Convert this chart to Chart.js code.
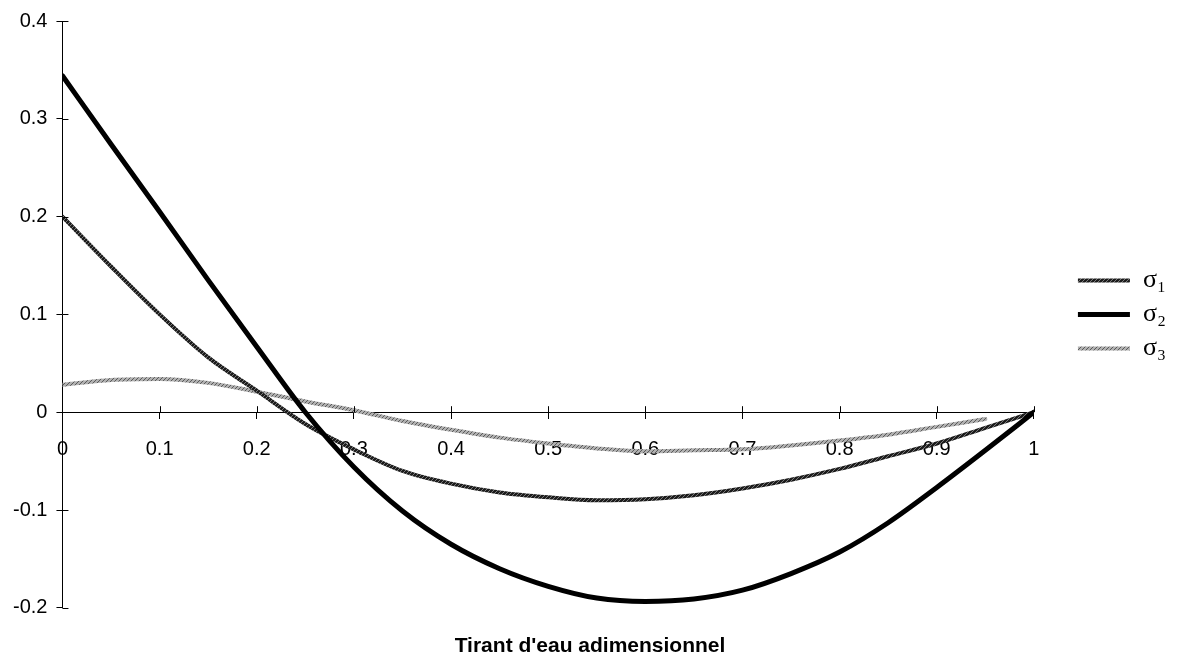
<!DOCTYPE html>
<html>
<head>
<meta charset="utf-8">
<script src="https://cdn.jsdelivr.net/npm/chart.js@4/dist/chart.umd.min.js"></script>
<style>
  html, body { margin: 0; padding: 0; background: #fff; }
  #wrap { width: 1181px; height: 663px; position: relative; }
</style>
</head>
<body>
<div id="wrap"><canvas id="c" width="1181" height="663"></canvas></div>
<script>
// Tirant d'eau adimensionnel (abscisse)
const xValues = [0, 0.05, 0.1, 0.15, 0.2, 0.25, 0.3, 0.35, 0.4, 0.45, 0.5,
                 0.55, 0.6, 0.65, 0.7, 0.75, 0.8, 0.85, 0.9, 0.95, 1];

// Contraintes adimensionnelles
const sigma1 = [0.200, 0.149, 0.100, 0.056, 0.022, -0.012, -0.038, -0.060, -0.073, -0.082, -0.087,
                -0.090, -0.089, -0.085, -0.078, -0.069, -0.058, -0.045, -0.032, -0.016, 0.000];
const sigma2 = [0.344, 0.274, 0.205, 0.135, 0.067, 0.000, -0.056, -0.101, -0.135, -0.160, -0.178,
                -0.190, -0.1935, -0.191, -0.182, -0.165, -0.143, -0.113, -0.077, -0.039, 0.000];
const sigma3 = [0.028, 0.033, 0.034, 0.030, 0.021, 0.011, 0.002, -0.009, -0.018, -0.026, -0.032,
                -0.037, -0.040, -0.039, -0.038, -0.034, -0.029, -0.023, -0.015, -0.007, null];

const seriesNames = ['σ\u2081', 'σ\u2082', 'σ\u2083'];

// Graduations
const xTickValues = [0, 0.1, 0.2, 0.3, 0.4, 0.5, 0.6, 0.7, 0.8, 0.9, 1];
const xTickLabels = ['0', '0.1', '0.2', '0.3', '0.4', '0.5', '0.6', '0.7', '0.8', '0.9', '1'];
const yTickValues = [-0.2, -0.1, 0, 0.1, 0.2, 0.3, 0.4];
const yTickLabels = ['-0.2', '-0.1', '0', '0.1', '0.2', '0.3', '0.4'];

const axisTitle = "Tirant d'eau adimensionnel";

function labelFor(values, labels, v) {
  for (let i = 0; i < values.length; i++) {
    if (Math.abs(values[i] - v) < 1e-6) return labels[i];
  }
  return '';
}

// Hatched stroke textures for the grey curves
function hatch(base, stripe) {
  const c = document.createElement('canvas');
  c.width = 4; c.height = 4;
  const g = c.getContext('2d');
  g.fillStyle = base;
  g.fillRect(0, 0, 4, 4);
  g.strokeStyle = stripe;
  g.lineWidth = 1;
  g.beginPath();
  g.moveTo(0, 4); g.lineTo(4, 0);
  g.moveTo(-1, 1); g.lineTo(1, -1);
  g.moveTo(3, 5); g.lineTo(5, 3);
  g.stroke();
  return g.createPattern(c, 'repeat');
}

const ctx = document.getElementById('c').getContext('2d');
const darkHatch = hatch('#1c1c1c', '#7a7a7a');
const lightHatch = hatch('#b0b0b0', '#5a5a5a');

function pts(arr) {
  return xValues.map((x, i) => ({ x: x, y: arr[i] }));
}

// Small tick marks on the inner side of both axes
const innerTicks = {
  id: 'innerTicks',
  afterDraw(chart) {
    const xs = chart.scales.x, ys = chart.scales.y;
    const c = chart.ctx;
    const y0 = ys.getPixelForValue(0);
    const x0 = xs.getPixelForValue(0);
    c.save();
    c.strokeStyle = '#000';
    c.lineWidth = 1;
    c.beginPath();
    xs.ticks.forEach(t => {
      const px = Math.round(xs.getPixelForValue(t.value)) + 0.5;
      c.moveTo(px, y0 - 6);
      c.lineTo(px, y0);
    });
    ys.ticks.forEach(t => {
      const py = Math.round(ys.getPixelForValue(t.value)) + 0.5;
      c.moveTo(x0, py);
      c.lineTo(x0 + 6, py);
    });
    c.stroke();
    c.restore();
  }
};

const tickFont = { family: "'Liberation Sans', Arial, Helvetica, sans-serif", size: 20 };

new Chart(ctx, {
  type: 'line',
  data: {
    datasets: [
      { label: seriesNames[0], data: pts(sigma1), borderColor: darkHatch, backgroundColor: darkHatch,
        borderWidth: 4, order: 2 },
      { label: seriesNames[1], data: pts(sigma2), borderColor: '#000', backgroundColor: '#000',
        borderWidth: 5, order: 1 },
      { label: seriesNames[2], data: pts(sigma3), borderColor: lightHatch, backgroundColor: lightHatch,
        borderWidth: 4, order: 3 }
    ]
  },
  options: {
    responsive: false,
    animation: false,
    events: [],
    layout: { padding: { left: 4, right: 5, top: 9, bottom: 0 } },
    elements: {
      point: { radius: 0 },
      line: { tension: 0, cubicInterpolationMode: 'monotone', fill: false, borderCapStyle: 'round', borderJoinStyle: 'round' }
    },
    scales: {
      x: {
        type: 'linear',
        position: { y: 0 },
        min: 0, max: 1,
        afterFit: s => { s.height = 0; },
        afterBuildTicks: s => { s.ticks = xTickValues.map(v => ({ value: v })); },
        ticks: {
          color: '#000', font: tickFont, padding: 19, maxRotation: 0, autoSkip: false,
          callback: v => labelFor(xTickValues, xTickLabels, v)
        },
        grid: { drawOnChartArea: false, drawTicks: true, tickLength: 6, color: '#000' },
        border: { display: true, color: '#000', width: 1 }
      },
      y: {
        type: 'linear',
        position: 'left',
        min: -0.2, max: 0.4,
        afterBuildTicks: s => { s.ticks = yTickValues.map(v => ({ value: v })); },
        ticks: {
          color: '#000', font: tickFont, padding: 9,
          callback: v => labelFor(yTickValues, yTickLabels, v)
        },
        grid: { drawOnChartArea: false, drawTicks: true, tickLength: 6, color: '#000' },
        border: { display: true, color: '#000', width: 1 }
      },
      gap: {
        type: 'linear',
        position: 'right',
        display: true,
        afterFit: s => { s.width = 36; },
        ticks: { display: false },
        grid: { display: false, drawTicks: false },
        border: { display: false }
      }
    },
    plugins: {
      legend: {
        position: 'right',
        align: 'center',
        fullSize: false,
        labels: {
          usePointStyle: true,
          pointStyle: 'line',
          pointStyleWidth: 52,
          padding: 8,
          color: '#000',
          font: { family: "'Liberation Serif', 'Times New Roman', serif", size: 26 },
          sort: (a, b) => a.datasetIndex - b.datasetIndex
        }
      },
      title: {
        display: true,
        position: 'bottom',
        text: axisTitle,
        color: '#000',
        font: { family: "'Liberation Sans', Arial, Helvetica, sans-serif", size: 21, weight: 'bold' },
        padding: { top: 26, bottom: 4 }
      },
      tooltip: { enabled: false }
    }
  },
  plugins: [innerTicks]
});
</script>
</body>
</html>
